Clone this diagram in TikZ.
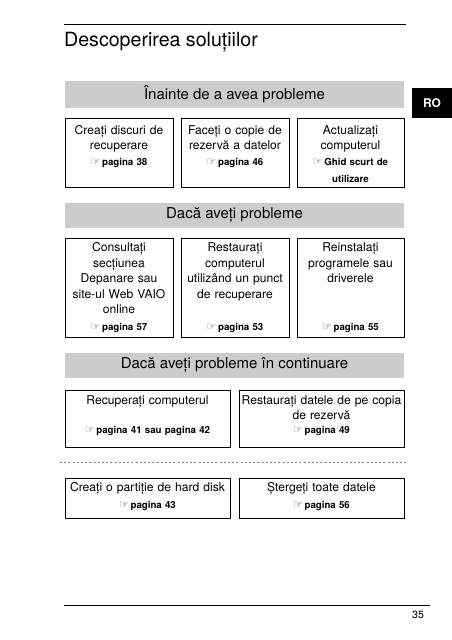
\documentclass[tikz,border=0pt]{standalone}
\usepackage{fontspec}
\setmainfont{TeX Gyre Heros}
\newfontfamily\handfont{DejaVu Sans}
\usepackage{tikz}
\usetikzlibrary{positioning}
\definecolor{bandgray}{gray}{0.8}
\newcommand{\seepage}[1]{{\handfont\fontsize{11}{12}\selectfont\color{black!70}☞}\,\textbf{#1}}

\begin{document}
\begin{tikzpicture}[x=1pt,y=-1pt,
        band/.style = {fill=bandgray, minimum width=339pt, inner sep=0pt, font=\fontsize{15}{18}\selectfont},
        card/.style = {draw, line width=0.9pt, inner sep=0pt},
        cardtext/.style = {anchor=base, align=center, inner sep=0pt, text width=190pt, font=\fontsize{12.1}{15.5}\selectfont},
        ref/.style = {anchor=base, align=center, inner sep=0pt, text width=190pt, font=\fontsize{9.7}{17}\selectfont}
    ]
    \useasboundingbox (0,0) rectangle (452,640);
    % header
    \coordinate (topl) at (64,24);
    \coordinate (topr) at (406,24);
    \draw [line width=0.9pt] (topl) -- (topr);
    \node (title) at (64,46) [anchor=base west, inner sep=0pt, font=\fontsize{19.6}{22}\selectfont] {Descoperirea soluțiilor};
    \node (ro) at (432,103) [fill=black, minimum width=40pt, minimum height=30pt, inner sep=0pt, text=white, font=\fontsize{12}{14}\bfseries] {RO};

    % before problems
    \node[band, minimum height=27pt] (b1) at (234.5,94.5) {Înainte de a avea probleme};
    \node[card, minimum width=108pt, minimum height=69pt] (c1) at (119,152.5) {};
    \node[card, minimum width=108pt, minimum height=69pt] (c2) at (235,152.5) {};
    \node[card, minimum width=107pt, minimum height=69pt] (c3) at (350.5,152.5) {};
    \node[cardtext] (t1) at (119,134) {Creați discuri de\\recuperare};
    \node[cardtext] (t2) at (235,134) {Faceți o copie de\\rezervă a datelor};
    \node[cardtext] (t3) at (350.5,134) {Actualizați\\computerul};
    \node[ref] (r1) at (119,165) {\seepage{pagina 38}};
    \node[ref] (r2) at (235,165) {\seepage{pagina 46}};
    \node[ref] (r3) at (350.5,165) {\seepage{Ghid scurt de}\\\textbf{utilizare}};

    % when problems occur
    \node[band, minimum height=25pt] (b2) at (234.5,215.5) {Dacă aveți probleme};
    \node[card, minimum width=108pt, minimum height=99pt] (c4) at (119,287.5) {};
    \node[card, minimum width=108pt, minimum height=99pt] (c5) at (235,287.5) {};
    \node[card, minimum width=107pt, minimum height=99pt] (c6) at (350.5,287.5) {};
    \node[cardtext] (t4) at (119,251.5) {Consultați\\secțiunea\\Depanare sau\\site-ul Web VAIO\\online};
    \node[cardtext] (t5) at (235,251.5) {Restaurați\\computerul\\utilizând un punct\\de recuperare};
    \node[cardtext] (t6) at (350.5,251.5) {Reinstalați\\programele sau\\driverele};
    \node[ref] (r4) at (119,330) {\seepage{pagina 57}};
    \node[ref] (r5) at (235,330) {\seepage{pagina 53}};
    \node[ref] (r6) at (350.5,330) {\seepage{pagina 55}};

    % still having problems
    \node[band, minimum height=25pt] (b3) at (234.5,365.5) {Dacă aveți probleme în continuare};
    \node[card, minimum width=165pt, minimum height=57pt] (c7) at (147.5,418.5) {};
    \node[card, minimum width=165pt, minimum height=57pt] (c8) at (321.5,418.5) {};
    \node[cardtext] (t7) at (147.5,404) {Recuperați computerul};
    \node[cardtext] (t8) at (321.5,404) {Restaurați datele de pe copia\\de rezervă};
    \node[ref] (r7) at (147.5,433) {\seepage{pagina 41 sau pagina 42}};
    \node[ref] (r8) at (321.5,433) {\seepage{pagina 49}};

    \coordinate (sepl) at (60,462);
    \coordinate (sepr) at (407,462);
    \draw [gray, dash pattern=on 2pt off 2.2pt, line width=0.6pt] (sepl) -- (sepr);

    \node[card, minimum width=165pt, minimum height=40pt] (c9) at (147.5,498) {};
    \node[card, minimum width=165pt, minimum height=40pt] (c10) at (321.5,498) {};
    \node[cardtext] (t9) at (147.5,491) {Creați o partiție de hard disk};
    \node[cardtext] (t10) at (321.5,491) {Ștergeți toate datele};
    \node[ref] (r9) at (147.5,508) {\seepage{pagina 43}};
    \node[ref] (r10) at (321.5,508) {\seepage{pagina 56}};

    % footer
    \coordinate (botl) at (64,605);
    \coordinate (botr) at (430,605);
    \draw [line width=0.9pt] (botl) -- (botr);
    \node (pageno) at (418,618) [anchor=base, inner sep=0pt, font=\fontsize{10.5}{12}\selectfont] {35};
\end{tikzpicture}
\end{document}
